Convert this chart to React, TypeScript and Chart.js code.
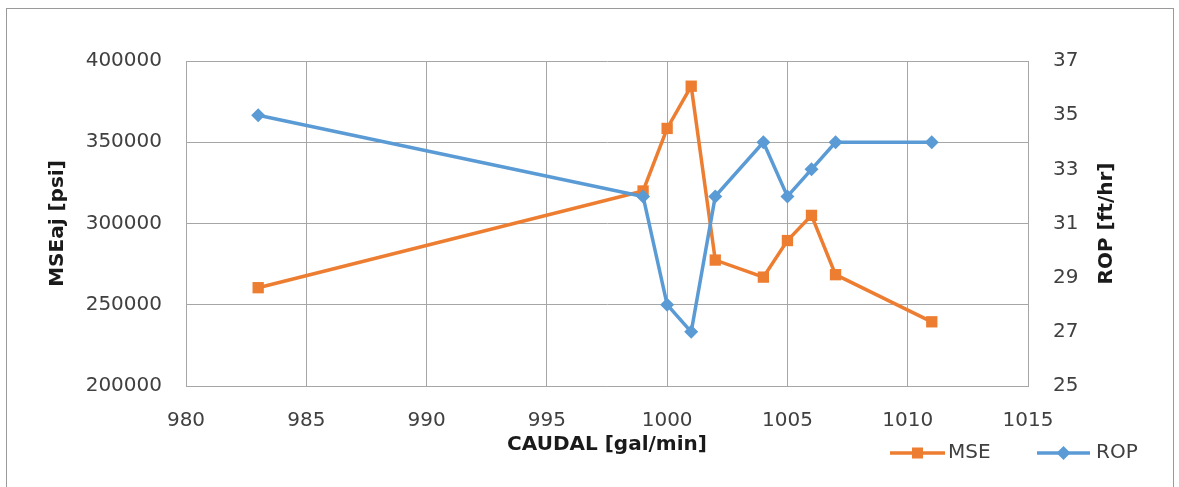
import React, { useEffect, useRef } from "react";
import { Chart, registerables } from "chart.js";

Chart.register(...registerables);

const caudal = [983, 999, 1000, 1001, 1002, 1004, 1005, 1006, 1007, 1011];
const mseValues = [260500, 320000, 358500, 384500, 277500, 267000, 289500, 305000, 268500, 239500];
const ropValues = [35, 32, 28, 27, 32, 34, 32, 33, 34, 34];

const xTicks = [980, 985, 990, 995, 1000, 1005, 1010, 1015];
const leftTicks = [200000, 250000, 300000, 350000, 400000];
const rightTicks = [25, 27, 29, 31, 33, 35, 37];

const seriesNames = ["MSE", "ROP"];
const xTitle = "CAUDAL [gal/min]";
const leftTitle = "MSEaj [psi]";
const rightTitle = "ROP [ft/hr]";

const ORANGE = "#ED7D31";
const BLUE = "#5B9BD5";
const GRID = "#a6a6a6";
const TICK_COLOR = "#404040";
const TITLE_COLOR = "#1a1a1a";
const FONT = "'DejaVu Sans', sans-serif";

const legendPlugin = {
  id: "customLegend",
  afterDraw(chart: any) {
    const ctx = chart.ctx;
    const y = 453;
    const items = [
      { x0: 890, x1: 945, tx: 948, idx: 0 },
      { x0: 1037, x1: 1090, tx: 1096, idx: 1 },
    ];
    ctx.save();
    items.forEach((it) => {
      const ds = chart.data.datasets[it.idx];
      const cx = (it.x0 + it.x1) / 2;
      ctx.strokeStyle = ds.borderColor;
      ctx.lineWidth = ds.borderWidth;
      ctx.beginPath();
      ctx.moveTo(it.x0, y);
      ctx.lineTo(it.x1, y);
      ctx.stroke();
      ctx.fillStyle = ds.borderColor;
      ctx.beginPath();
      if (ds.pointStyle === "rect") {
        const s = 5.5;
        ctx.rect(cx - s, y - s, 2 * s, 2 * s);
      } else {
        const r = 7;
        ctx.moveTo(cx, y - r);
        ctx.lineTo(cx + r, y);
        ctx.lineTo(cx, y + r);
        ctx.lineTo(cx - r, y);
        ctx.closePath();
      }
      ctx.fill();
      ctx.fillStyle = TICK_COLOR;
      ctx.font = `20px ${FONT}`;
      ctx.textAlign = "left";
      ctx.textBaseline = "middle";
      ctx.fillText(ds.label, it.tx, y);
    });

    // right axis title, reading bottom-to-top like the left one
    const area = chart.chartArea;
    ctx.save();
    ctx.translate(1107, (area.top + area.bottom) / 2);
    ctx.rotate(-Math.PI / 2);
    ctx.fillStyle = TITLE_COLOR;
    ctx.font = `bold 20px ${FONT}`;
    ctx.textAlign = "center";
    ctx.textBaseline = "middle";
    ctx.fillText(rightTitle, 0, 0);
    ctx.restore();

    ctx.restore();
  },
};

export default function App() {
  const canvasRef = useRef<HTMLCanvasElement | null>(null);

  useEffect(() => {
    if (!canvasRef.current) return;
    const chart = new Chart(canvasRef.current, {
      type: "line",
      data: {
        datasets: [
          {
            label: seriesNames[0],
            data: caudal.map((x, i) => ({ x, y: mseValues[i] })),
            yAxisID: "y",
            borderColor: ORANGE,
            backgroundColor: ORANGE,
            borderWidth: 3.5,
            pointStyle: "rect",
            pointRadius: 8,
            pointBorderWidth: 0,
            pointBackgroundColor: ORANGE,
            tension: 0,
            order: 2,
          },
          {
            label: seriesNames[1],
            data: caudal.map((x, i) => ({ x, y: ropValues[i] })),
            yAxisID: "y1",
            borderColor: BLUE,
            backgroundColor: BLUE,
            borderWidth: 3.5,
            pointStyle: "rectRot",
            pointRadius: 7,
            pointBorderWidth: 0,
            pointBackgroundColor: BLUE,
            tension: 0,
            order: 1,
          },
        ],
      },
      options: {
        responsive: false,
        animation: false,
        layout: { padding: { top: 61, left: 0, right: 0, bottom: 0 } },
        plugins: {
          legend: { display: false },
          tooltip: { enabled: false },
        },
        scales: {
          x: {
            type: "linear",
            min: xTicks[0],
            max: xTicks[xTicks.length - 1],
            afterBuildTicks: (scale: any) => {
              scale.ticks = xTicks.map((v) => ({ value: v }));
            },
            afterFit: (scale: any) => {
              scale.height = 101;
            },
            ticks: {
              color: TICK_COLOR,
              font: { family: FONT, size: 20 },
              padding: 23,
              maxRotation: 0,
              callback: (v: any) => String(v),
            },
            grid: { color: GRID, lineWidth: 1, drawTicks: false },
            border: { color: GRID, width: 1 },
            title: {
              display: true,
              text: xTitle,
              color: TITLE_COLOR,
              font: { family: FONT, size: 20, weight: "bold" },
              padding: { top: 0, bottom: 30 },
            },
          },
          y: {
            type: "linear",
            position: "left",
            min: leftTicks[0],
            max: leftTicks[leftTicks.length - 1],
            afterBuildTicks: (scale: any) => {
              scale.ticks = leftTicks.map((v) => ({ value: v }));
            },
            afterFit: (scale: any) => {
              scale.width = 186;
            },
            ticks: {
              color: TICK_COLOR,
              font: { family: FONT, size: 20 },
              padding: 24,
              callback: (v: any) => String(v),
            },
            grid: { color: GRID, lineWidth: 1, drawTicks: false },
            border: { color: GRID, width: 1 },
            title: {
              display: true,
              text: leftTitle,
              color: TITLE_COLOR,
              font: { family: FONT, size: 20, weight: "bold" },
              padding: { top: 46, bottom: 0 },
            },
          },
          y1: {
            type: "linear",
            position: "right",
            min: rightTicks[0],
            max: rightTicks[rightTicks.length - 1],
            afterBuildTicks: (scale: any) => {
              scale.ticks = rightTicks.map((v) => ({ value: v }));
            },
            afterFit: (scale: any) => {
              scale.width = 151;
            },
            ticks: {
              color: TICK_COLOR,
              font: { family: FONT, size: 20 },
              padding: 25,
              callback: (v: any) => String(v),
            },
            grid: { drawOnChartArea: false, drawTicks: false, color: GRID },
            border: { color: GRID, width: 1 },
            title: { display: false },
          },
        },
      },
      plugins: [legendPlugin],
    } as any);
    return () => chart.destroy();
  }, []);

  return (
    <div
      style={{
        position: "fixed",
        left: 0,
        top: 0,
        width: 1179,
        height: 487,
        background: "#ffffff",
        overflow: "hidden",
      }}
    >
      <div
        style={{
          position: "absolute",
          left: 6,
          top: 8,
          width: 1168,
          height: 500,
          border: "1px solid #9a9a9a",
          boxSizing: "border-box",
        }}
      />
      <canvas
        ref={canvasRef}
        width={1179}
        height={487}
        style={{ position: "absolute", left: 0, top: 0, width: 1179, height: 487 }}
      />
    </div>
  );
}
